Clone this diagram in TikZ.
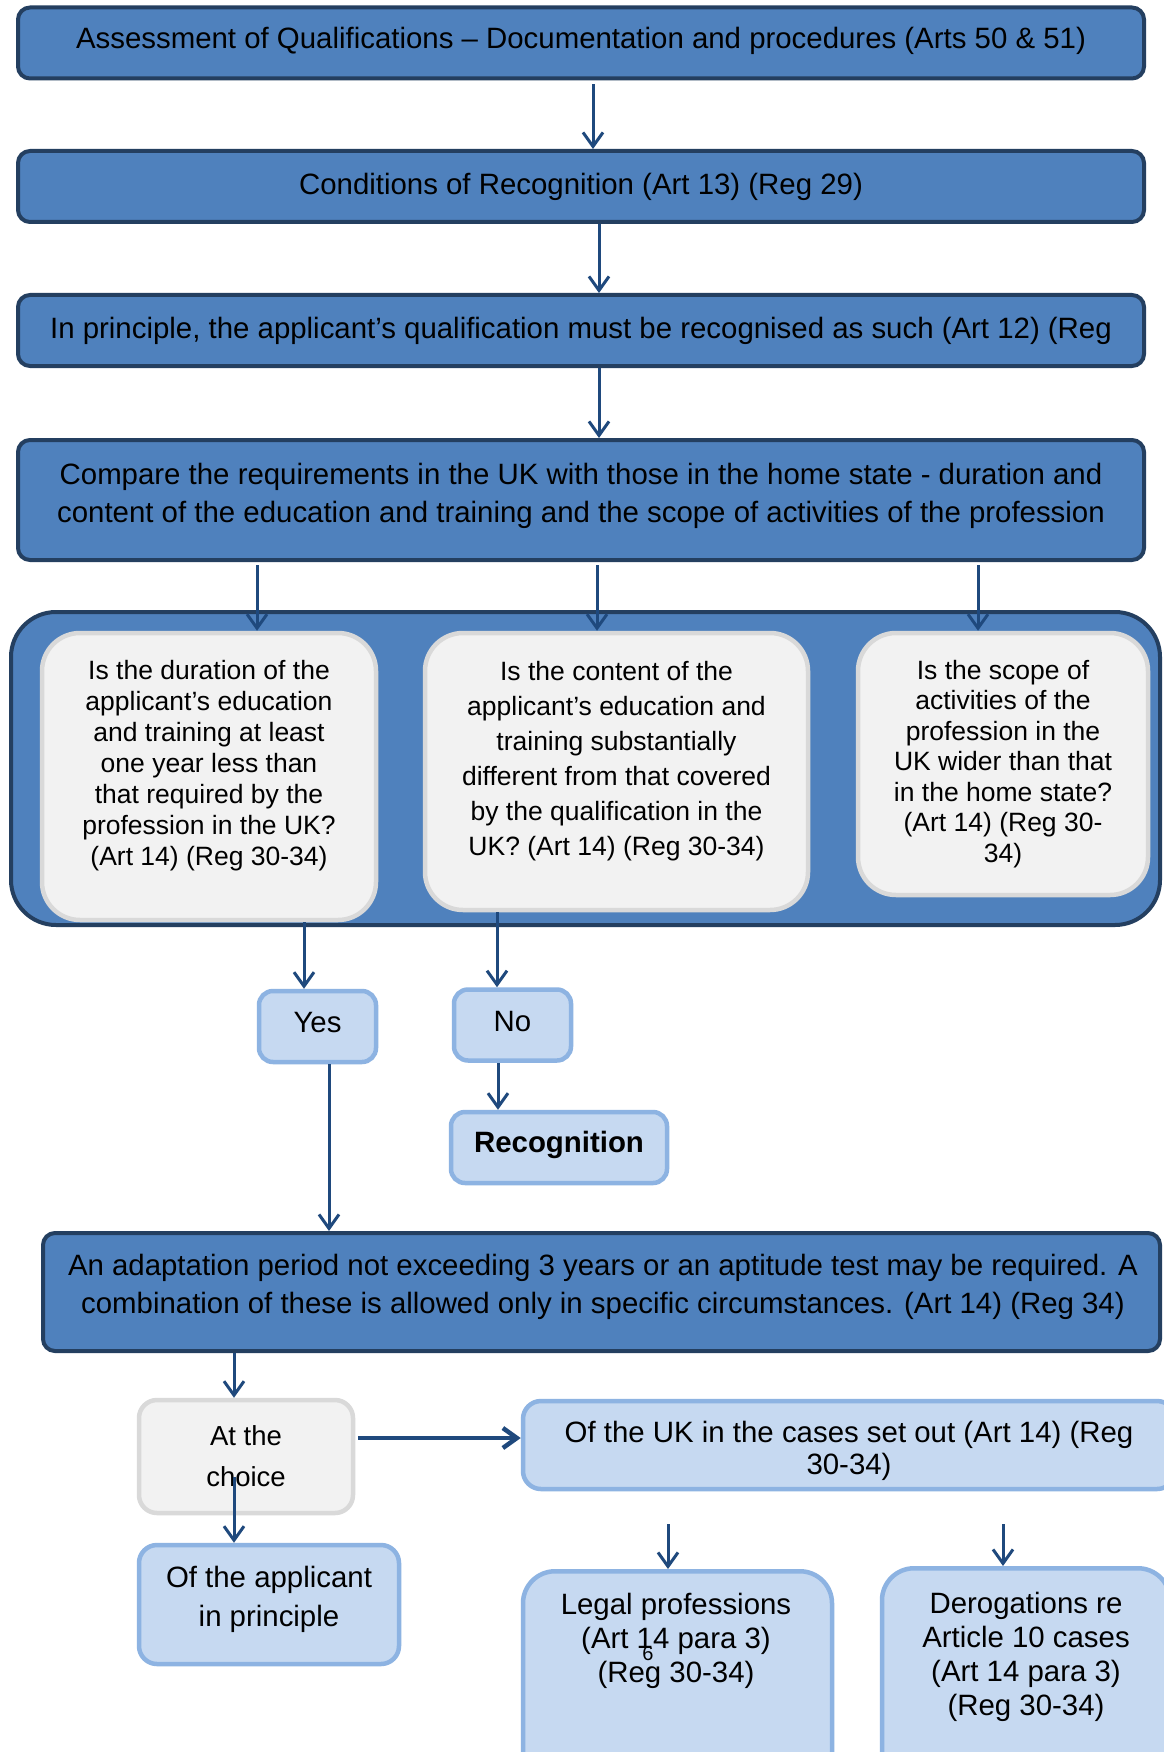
\documentclass[tikz,border=0pt]{standalone}
\usepackage{fontspec}
\setmainfont{Liberation Sans}
\usetikzlibrary{arrows.meta}
\definecolor{dkfill}{HTML}{4F81BD}
\definecolor{dkline}{HTML}{243F60}
\definecolor{arrowc}{HTML}{1F497D}
\definecolor{gyfill}{HTML}{F2F2F2}
\definecolor{gyline}{HTML}{D9D9D9}
\definecolor{lbfill}{HTML}{C6D9F1}
\definecolor{lbline}{HTML}{8DB3E2}
\begin{document}
\begin{tikzpicture}[x=1pt,y=-1pt,
  darkbox/.style={draw=dkline, fill=dkfill, line width=4pt, rounded corners=12pt, inner sep=0pt, align=center, font=\fontsize{29.4}{38}\selectfont},
  greybox/.style={draw=gyline, fill=gyfill, line width=4.5pt, rounded corners=38pt, inner sep=0pt, align=center, font=\fontsize{26.5}{31}\selectfont},
  lightbox/.style={draw=lbline, fill=lbfill, line width=4.5pt, rounded corners=14pt, inner sep=0pt, align=center, font=\fontsize{29.4}{38}\selectfont},
  arr/.style={draw=arrowc, line width=3pt, -{Straight Barb[length=14pt,width=20pt]}},
  lbl/.style={inner sep=0pt, align=center, font=\fontsize{29.4}{34}\selectfont}
]
\fill[white] (0,0) rectangle (1163,1752);
\useasboundingbox (0,0) rectangle (1163,1752);

% top chain
\node[darkbox, minimum width=1126pt, minimum height=71pt] (b1) at (581,43) {};
\node[lbl] (b1t) at (581,41) {Assessment of Qualifications – Documentation and procedures (Arts 50 \& 51)};
\node[darkbox, minimum width=1126pt, minimum height=71pt] (b2) at (581,186.5) {Conditions of Recognition (Art 13) (Reg 29)};
\node[darkbox, minimum width=1126pt, minimum height=71pt] (b3) at (581,330.5) {In principle, the applicant’s qualification must be recognised as such (Art 12) (Reg};
\node[darkbox, minimum width=1126pt, minimum height=120pt] (b4) at (581,500) {};
\node[lbl, font=\fontsize{29.4}{38}\selectfont] (b4t) at (581,495.5) {Compare the requirements in the UK with those in the home state - duration and\\content of the education and training and the scope of activities of the profession};

% container
\node[darkbox, rounded corners=45pt, minimum width=1149pt, minimum height=313pt] (cont) at (585.5,768.5) {};
\node[greybox, minimum width=334pt, minimum height=287pt] (qa) at (209,776.5) {};
\node[lbl, font=\fontsize{26.5}{31}\selectfont] (qat) at (209,766) {Is the duration of the\\applicant’s education\\and training at least\\one year less than\\that required by the\\profession in the UK?\\(Art 14) (Reg 30-34)};
\node[greybox, minimum width=383pt, minimum height=277pt] (qb) at (616.5,771.5) {};
\node[lbl, font=\fontsize{26.5}{35}\selectfont] (qbt) at (616.5,761.5) {Is the content of the\\applicant’s education and\\training substantially\\different from that covered\\by the qualification in the\\UK? (Art 14) (Reg 30-34)};
\node[greybox, minimum width=290pt, minimum height=262pt, font=\fontsize{26.5}{30.5}\selectfont] (qc) at (1003,764) {Is the scope of\\activities of the\\profession in the\\UK wider than that\\in the home state?\\(Art 14) (Reg 30-\\34)};

% yes / no
\node[lightbox, minimum width=117pt, minimum height=71pt] (yes) at (317.5,1026.5) {};
\node[lbl] (yest) at (317.5,1023) {Yes};
\node[lightbox, minimum width=117pt, minimum height=71pt] (no) at (512.5,1025) {};
\node[lbl] (not) at (512.5,1022) {No};
\node[lightbox, minimum width=216pt, minimum height=71pt] (rec) at (559,1147.5) {};
\node[lbl, font=\fontsize{29.4}{38}\selectfont\bfseries] (rect) at (559,1145) {Recognition};

% adaptation
\node[darkbox, minimum width=1117pt, minimum height=118pt] (adapt) at (601.5,1292) {};
\node[lbl, font=\fontsize{29.4}{38}\selectfont] (adaptt) at (603,1287) {An adaptation period not exceeding 3 years or an aptitude test may be required. A\\combination of these is allowed only in specific circumstances. (Art 14) (Reg 34)};

% bottom
\node[greybox, rounded corners=18pt, minimum width=214pt, minimum height=113pt, font=\fontsize{27.5}{41}\selectfont] (choice) at (246,1456.5) {At the\\choice};
\node[lightbox, rounded corners=18pt, minimum width=652pt, minimum height=88pt] (uk) at (849,1445) {};
\node[lbl, font=\fontsize{29.4}{31.5}\selectfont] (ukt) at (849,1451) {Of the UK in the cases set out (Art 14) (Reg\\30-34)};
\node[lightbox, rounded corners=18pt, minimum width=260pt, minimum height=119pt] (appl) at (269,1604.5) {};
\node[lbl, font=\fontsize{29.4}{39}\selectfont] (applt) at (269,1599.5) {Of the applicant\\in principle};
\node[lightbox, rounded corners=32pt, minimum width=309pt, minimum height=222pt, anchor=north] (legal) at (677.5,1569) {};
\node[lightbox, rounded corners=32pt, minimum width=288pt, minimum height=222pt, anchor=north] (derog) at (1026,1566) {};
\node[lbl] (legalt) at (676,1640.5) {Legal professions\\(Art 14 para 3)\\(Reg 30-34)};
\node[lbl] (derogt) at (1026,1657) {Derogations re\\Article 10 cases\\(Art 14 para 3)\\(Reg 30-34)};
\node[inner sep=0pt, font=\fontsize{20}{24}\selectfont] (pnum) at (648,1654) {6};

% connectors
\draw[arr, shorten <=4pt] ([xshift=12pt]b1.south) -- ([xshift=12pt]b2.north);
\draw[arr] ([xshift=18pt]b2.south) -- ([xshift=18pt]b3.north);
\draw[arr] ([xshift=18pt]b3.south) -- ([xshift=18pt]b4.north);
\draw[arr, shorten <=3pt] ([xshift=-324pt]b4.south) -- ([xshift=48pt]qa.north);
\draw[arr, shorten <=3pt] ([xshift=16pt]b4.south) -- ([xshift=-19.5pt]qb.north);
\draw[arr, shorten <=3pt] ([xshift=397pt]b4.south) -- ([xshift=-25pt]qc.north);
\draw[arr] ([xshift=95pt]qa.south) -- ([xshift=-13.5pt]yes.north);
\draw[arr] ([xshift=-119.5pt]qb.south) -- ([xshift=-15.5pt]no.north);
\draw[arr] ([xshift=-14.5pt]no.south) -- ([xshift=-61pt]rec.north);
\draw[arr] ([xshift=11.5pt]yes.south) -- ([xshift=-272.5pt]adapt.north);
\draw[arr] ([xshift=-367.5pt]adapt.south) -- ([xshift=-12pt]choice.north);
\draw[arr, line width=4.5pt, shorten <=3pt] ([yshift=18.5pt]choice.east) -- ([yshift=7pt]uk.west);
\draw[arr] ([xshift=-12pt,yshift=-20.5pt]choice.center) -- ([xshift=-35pt]appl.north);
\draw[arr, shorten <=33pt] ([xshift=-181pt]uk.south) -- ([xshift=-9.5pt]legal.north);
\draw[arr, shorten <=33pt] ([xshift=154pt]uk.south) -- ([xshift=-23pt]derog.north);
\end{tikzpicture}
\end{document}
